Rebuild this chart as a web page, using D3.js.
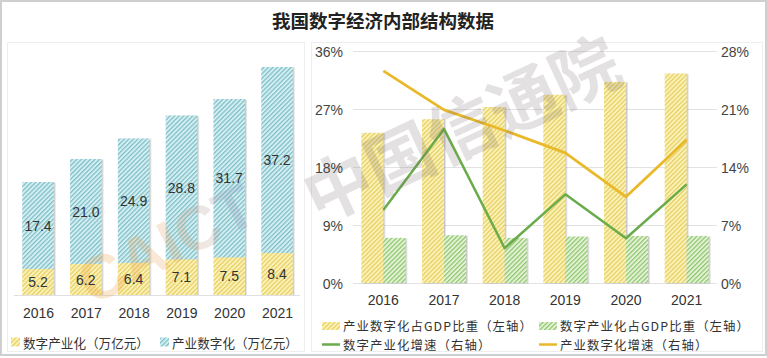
<!DOCTYPE html>
<html><head><meta charset="utf-8">
<script src="https://cdn.jsdelivr.net/npm/d3@7"></script>
<style>
html,body{margin:0;padding:0;background:#fff;}
svg{display:block;font-family:"Liberation Sans","Noto Sans CJK SC",Arial,sans-serif;}
</style></head>
<body>
<script>
// ---- data ----
const years = ["2016","2017","2018","2019","2020","2021"];
const digitalIndustry = [5.2, 6.2, 6.4, 7.1, 7.5, 8.4];        // 数字产业化（万亿元）
const industryDigital = [17.4, 21.0, 24.9, 28.8, 31.7, 37.2];  // 产业数字化（万亿元）
const shareIndustryDigital = [23.3, 25.4, 27.3, 29.2, 31.2, 32.5]; // 产业数字化占GDP比重（左轴）
const shareDigitalIndustry = [7.0, 7.4, 7.0, 7.2, 7.3, 7.3];       // 数字产业化占GDP比重（左轴）
const growthDigitalIndustry = [8.8, 18.6, 4.2, 10.7, 5.4, 11.9];   // 数字产业化增速（右轴）
const growthIndustryDigital = [25.6, 20.9, 18.4, 15.7, 10.4, 17.3]; // 产业数字化增速（右轴）
const leftTicks = [0, 9, 18, 27, 36];
const rightTicks = [0, 7, 14, 21, 28];
const title = "我国数字经济内部结构数据";

const W = 767, H = 358;
const svg = d3.select("body").append("svg").attr("width", W).attr("height", H);
const defs = svg.append("defs");

function hatch(id, bg, fg) {
  const p = defs.append("pattern").attr("id", id).attr("patternUnits", "userSpaceOnUse")
    .attr("width", 3.2).attr("height", 3.2).attr("patternTransform", "rotate(45)");
  p.append("rect").attr("width", 3.2).attr("height", 3.2).attr("fill", bg);
  p.append("rect").attr("width", 1.2).attr("height", 3.2).attr("fill", fg);
}
hatch("hY", "#fbf2b8", "#e6cd5e");
hatch("hB", "#d3eff1", "#7dbcc6");
hatch("hG", "#e3f2d3", "#8cc46e");
const f = defs.append("filter").attr("id", "sh").attr("x", "-20%").attr("y", "-20%").attr("width", "150%").attr("height", "150%");
f.append("feDropShadow").attr("dx", 1.5).attr("dy", 0.5).attr("stdDeviation", 0.7)
  .attr("flood-color", "#888").attr("flood-opacity", 0.45);
const g1 = defs.append("linearGradient").attr("id", "wmg").attr("x1", "0").attr("x2", "1").attr("y1", "0").attr("y2", "0");
g1.append("stop").attr("offset", "0").attr("stop-color", "#f0a040");
g1.append("stop").attr("offset", "0.5").attr("stop-color", "#e8a868");
g1.append("stop").attr("offset", "1").attr("stop-color", "#7f9ad0");

// layers
const frameL = svg.append("g");
const backL = svg.append("g");
const wmL = svg.append("g").attr("pointer-events", "none");
const frontL = svg.append("g");

// frame
frameL.append("rect").attr("x", 1).attr("y", 1).attr("width", W - 2).attr("height", H - 4)
  .attr("fill", "#fff").attr("stroke", "#cfcfcf").attr("stroke-width", 2);
frameL.append("rect").attr("x", 7.5).attr("y", 42.5).attr("width", 297).attr("height", 309)
  .attr("fill", "none").attr("stroke", "#eeeeee");
frameL.append("rect").attr("x", 311.5).attr("y", 42.5).attr("width", 451).attr("height", 309)
  .attr("fill", "none").attr("stroke", "#eeeeee");

// title
frontL.append("text").attr("x", 383).attr("y", 20).attr("text-anchor", "middle")
  .attr("dominant-baseline", "central").attr("font-size", 18.5).attr("font-weight", "bold")
  .attr("font-family", "'Noto Sans CJK SC',sans-serif").attr("fill", "#222").text(title);

// ---------- left chart ----------
const xL = d3.scalePoint().domain(years).range([38, 277]);
const yL = d3.scaleLinear().domain([0, 50]).range([295, 45]);
const bwL = 31.5;
const stack = years.map((y, i) => ({ y, a: digitalIndustry[i], b: industryDigital[i] }));
backL.selectAll("rect.b").data(stack).join("rect").attr("class", "b")
  .attr("x", d => xL(d.y) - bwL / 2).attr("width", bwL)
  .attr("y", d => yL(d.a + d.b)).attr("height", d => yL(d.a) - yL(d.a + d.b))
  .attr("fill", "url(#hB)").attr("filter", "url(#sh)");
backL.selectAll("rect.a").data(stack).join("rect").attr("class", "a")
  .attr("x", d => xL(d.y) - bwL / 2).attr("width", bwL)
  .attr("y", d => yL(d.a)).attr("height", d => yL(0) - yL(d.a))
  .attr("fill", "url(#hY)").attr("filter", "url(#sh)");
backL.append("line").attr("x1", 14).attr("x2", 300).attr("y1", yL(0) + 0.5).attr("y2", yL(0) + 0.5)
  .attr("stroke", "#e0e0e0");

frontL.selectAll("text.lb").data(stack).join("text").attr("class", "lb")
  .attr("x", d => xL(d.y)).attr("y", d => (yL(d.a) + yL(d.a + d.b)) / 2)
  .attr("text-anchor", "middle").attr("dominant-baseline", "central")
  .attr("font-size", 14).attr("fill", "#333").text(d => d.b.toFixed(1));
frontL.selectAll("text.la").data(stack).join("text").attr("class", "la")
  .attr("x", d => xL(d.y)).attr("y", d => (yL(0) + yL(d.a)) / 2)
  .attr("text-anchor", "middle").attr("dominant-baseline", "central")
  .attr("font-size", 14).attr("fill", "#333").text(d => d.a.toFixed(1));
const axL = d3.axisBottom(xL).tickSize(0).tickPadding(0);
frontL.append("g").attr("transform", "translate(0,313)").call(axL)
  .call(g => g.select(".domain").remove())
  .call(g => g.selectAll("text").attr("font-size", 14).attr("fill", "#333")
    .attr("dy", null).attr("dominant-baseline", "central").attr("font-family", "'Liberation Sans',Arial,sans-serif"));

// left legend
const legL = [{ t: "数字产业化（万亿元）", f: "url(#hY)", x: 11 }, { t: "产业数字化（万亿元）", f: "url(#hB)", x: 160 }];
legL.forEach(d => {
  frontL.append("rect").attr("x", d.x).attr("y", 337.5).attr("width", 9).attr("height", 9).attr("fill", d.f);
  frontL.append("text").attr("x", d.x + 12).attr("y", 342).attr("dominant-baseline", "central")
    .attr("font-size", 12.6).attr("fill", "#333").attr("font-family", "'Noto Sans CJK SC',sans-serif").text(d.t);
});

// ---------- right chart ----------
const xR = d3.scaleBand().domain(years).range([353, 717]);
const yRL = d3.scaleLinear().domain([0, 36]).range([283, 51]);
const yRR = d3.scaleLinear().domain([0, 28]).range([283, 51]);
backL.selectAll("line.grid").data(leftTicks).join("line").attr("class", "grid")
  .attr("x1", 353).attr("x2", 717).attr("y1", d => Math.round(yRL(d)) + 0.5).attr("y2", d => Math.round(yRL(d)) + 0.5)
  .attr("stroke", "#e2e2e2");
const axRL = d3.axisLeft(yRL).tickValues(leftTicks).tickSize(0).tickPadding(0).tickFormat(d => d + "%");
frontL.append("g").attr("transform", "translate(343,0)").call(axRL)
  .call(g => g.select(".domain").remove())
  .call(g => g.selectAll("text").attr("font-size", 14).attr("fill", "#444").attr("dy", null).attr("dominant-baseline", "central"));
const axRR = d3.axisRight(yRR).tickValues(rightTicks).tickSize(0).tickPadding(0).tickFormat(d => d + "%");
frontL.append("g").attr("transform", "translate(721,0)").call(axRR)
  .call(g => g.select(".domain").remove())
  .call(g => g.selectAll("text").attr("font-size", 14).attr("fill", "#444").attr("dy", null).attr("dominant-baseline", "central"));

const bw = 22;
const cx = y => xR(y) + xR.bandwidth() / 2;
backL.selectAll("rect.s1").data(years).join("rect").attr("class", "s1")
  .attr("x", (y) => cx(y) - bw).attr("width", bw)
  .attr("y", (y, i) => yRL(shareIndustryDigital[i])).attr("height", (y, i) => yRL(0) - yRL(shareIndustryDigital[i]))
  .attr("fill", "url(#hY)").attr("filter", "url(#sh)");
backL.selectAll("rect.s2").data(years).join("rect").attr("class", "s2")
  .attr("x", (y) => cx(y)).attr("width", bw)
  .attr("y", (y, i) => yRL(shareDigitalIndustry[i])).attr("height", (y, i) => yRL(0) - yRL(shareDigitalIndustry[i]))
  .attr("fill", "url(#hG)").attr("filter", "url(#sh)");

const line = d3.line().x(d => cx(d[0])).y(d => yRR(d[1]));
backL.append("path").datum(years.map((y, i) => [y, growthDigitalIndustry[i]]))
  .attr("d", line).attr("fill", "none").attr("stroke", "#6aab4a").attr("stroke-width", 2.5).attr("stroke-linejoin", "round");
backL.append("path").datum(years.map((y, i) => [y, growthIndustryDigital[i]]))
  .attr("d", line).attr("fill", "none").attr("stroke", "#e9b92a").attr("stroke-width", 2.8).attr("stroke-linejoin", "round");

const axRX = d3.axisBottom(xR).tickSize(0).tickPadding(0);
frontL.append("g").attr("transform", "translate(0,300)").call(axRX)
  .call(g => g.select(".domain").remove())
  .call(g => g.selectAll("text").attr("font-size", 14).attr("fill", "#333").attr("dy", null).attr("dominant-baseline", "central"));

// right legend
const legR = [
  { t: "产业数字化占GDP比重（左轴）", k: "rect", c: "url(#hY)", x: 322, y: 326 },
  { t: "数字产业化占GDP比重（左轴）", k: "rect", c: "url(#hG)", x: 539, y: 326 },
  { t: "数字产业化增速（右轴）", k: "line", c: "#6aab4a", x: 322, y: 344.5 },
  { t: "产业数字化增速（右轴）", k: "line", c: "#e9b92a", x: 539, y: 344.5 }
];
legR.forEach(d => {
  if (d.k === "rect") frontL.append("rect").attr("x", d.x).attr("y", d.y - 4).attr("width", 18).attr("height", 8).attr("fill", d.c);
  else frontL.append("line").attr("x1", d.x).attr("x2", d.x + 18).attr("y1", d.y).attr("y2", d.y).attr("stroke", d.c).attr("stroke-width", 2.5);
  frontL.append("text").attr("x", d.x + 21).attr("y", d.y).attr("dominant-baseline", "central")
    .attr("font-size", 12.4).attr("letter-spacing", 1.1).attr("fill", "#333")
    .attr("font-family", "'Noto Sans CJK SC',sans-serif").text(d.t);
});

// watermark
const wm1 = wmL.append("g").attr("transform", "translate(92,306) rotate(-27)");
wm1.append("text").attr("x", 0).attr("y", 0).attr("font-size", 62).attr("font-weight", "bold")
  .attr("font-family", "'Liberation Sans',Arial,sans-serif").attr("fill", "url(#wmg)").attr("opacity", 0.25).text("CAICT");
const wm2 = wmL.append("g").attr("transform", "translate(318,224) rotate(-25)");
wm2.append("text").attr("x", 0).attr("y", 0).attr("font-size", 68).attr("font-weight", "bold")
  .attr("font-family", "'Noto Sans CJK SC',sans-serif").attr("fill", "#7a6e6e").attr("opacity", 0.2).text("中国信通院");
</script>
</body></html>
